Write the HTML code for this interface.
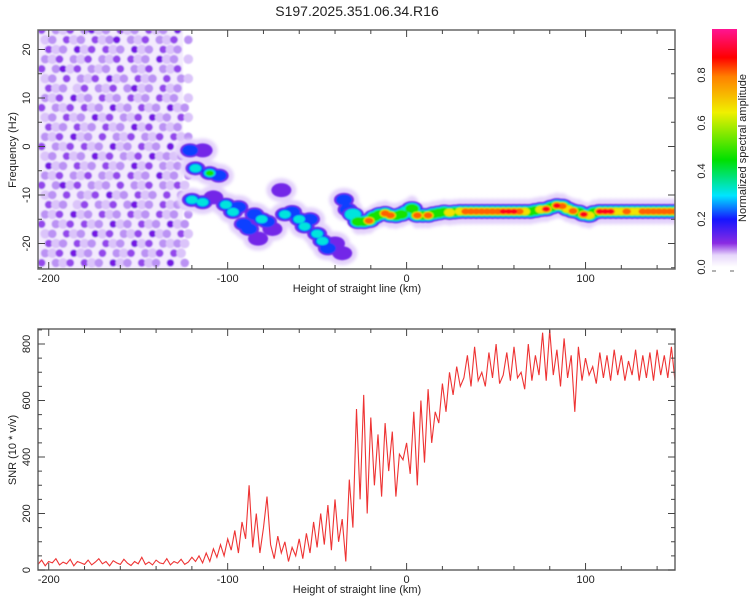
<!DOCTYPE html>
<html><head><meta charset="utf-8">
<style>
html,body{margin:0;padding:0;background:#fff;}
svg{display:block;font-family:"Liberation Sans",sans-serif;}
</style></head>
<body>
<svg id="chart" width="750" height="600" viewBox="0 0 750 600">
<defs>
<clipPath id="clipTop"><rect x="38" y="30" width="637" height="239"/></clipPath>
<clipPath id="clipBot"><rect x="38" y="329" width="637" height="241"/></clipPath>
<filter id="blur2" x="-10%" y="-10%" width="120%" height="120%"><feGaussianBlur stdDeviation="1.6"/></filter>
<filter id="blurS" x="-10%" y="-10%" width="120%" height="120%"><feGaussianBlur stdDeviation="0.8"/></filter>
<filter id="blur1" x="-20%" y="-20%" width="140%" height="140%"><feGaussianBlur stdDeviation="0.7"/></filter>
<linearGradient id="cbGrad" x1="0" y1="1" x2="0" y2="0">
<stop offset="0" stop-color="#ffffff"/><stop offset="0.05" stop-color="#e6d6fb"/>
<stop offset="0.1" stop-color="#8a2be2"/><stop offset="0.2" stop-color="#1515ff"/>
<stop offset="0.3" stop-color="#00e5ff"/><stop offset="0.45" stop-color="#00e000"/>
<stop offset="0.65" stop-color="#f0f000"/><stop offset="0.8" stop-color="#ff8000"/>
<stop offset="0.88" stop-color="#ff0000"/><stop offset="1" stop-color="#ff1493"/>
</linearGradient>
</defs>
<text x="357" y="16" font-size="14" text-anchor="middle" fill="#222">S197.2025.351.06.34.R16</text>
<g id="topPlot"></g>
<g id="botPlot"></g>
<g id="cbar"></g>
</svg>
<script>
// ---- data ----
const speckleRows = [
"302130241203120312040","120312031240213021302","031204130312041203120","213021302130312041201",
"302413021203021302130","120302130412031203021","031201302130241203120","213041203120312031201",
"302130312041203120412","120312041302130412031","031203120312041302120","213041203021302130312",
"302130312041203120402","120312041302130412131","041203120312041302120","213021302130312041203",
"302413021203021302131","120302130412031203020","031201302130241203121","213041203120312031202",
"302130312041203120412","120312041302130412031","031203120312041302121","213041203021302130310",
"302130312041203120402"];
const ridgeX = [-121,-114,-118,-110,-105,-120,-114,-108,-101,-97,-94,-91,-88,-85,-81,-78,-75,-68,-64,-60,-57,-54,-50,-47,-44,-40,-36,-35,-33,-70,-83];
const ridgeF = [-0.8,-0.8,-4.5,-5.5,-6,-11,-11.5,-10.5,-12,-13.5,-12.5,-16,-17,-14,-15,-15.5,-17,-14,-13.5,-15,-16.5,-15,-18,-19.5,-21,-20,-22,-11,-13,-9,-19];
const ridgeAmp = [0.2,0.12,0.3,0.45,0.25,0.3,0.32,0.12,0.3,0.32,0.25,0.22,0.25,0.2,0.3,0.25,0.15,0.35,0.25,0.3,0.3,0.25,0.42,0.3,0.2,0.15,0.12,0.25,0.2,0.12,0.15];
const bandX = [-30,-27,-24,-21,-18,-15,-12,-9,-6,-3,0,3,6,9,12,15,18,21,24,27,30,33,36,39,42,45,48,51,54,57,60,63,66,69,72,75,78,81,84,87,90,93,96,99,102,105,108,111,114,117,120,123,126,129,132,135,138,141,144,147,150];
const bandF = [-14,-15.5,-15.5,-15.3,-14.5,-14,-13.8,-14.2,-14.3,-14,-13.5,-12.8,-14.2,-14.2,-14.2,-13.9,-13.7,-13.5,-13.6,-13.5,-13.4,-13.4,-13.4,-13.4,-13.4,-13.4,-13.4,-13.4,-13.4,-13.4,-13.4,-13.4,-13.4,-13.4,-13.2,-13,-12.9,-12.5,-12.2,-12.3,-12.9,-13.3,-13.5,-14,-14.2,-13.6,-13.4,-13.4,-13.4,-13.4,-13.4,-13.4,-13.4,-13.4,-13.4,-13.4,-13.4,-13.4,-13.4,-13.4,-13.4];
const bandAmp = [0.35,0.5,0.55,0.85,0.6,0.6,0.85,0.8,0.55,0.45,0.4,0.6,0.85,0.6,0.85,0.6,0.55,0.6,0.7,0.6,0.7,0.85,0.82,0.85,0.8,0.85,0.85,0.85,0.88,0.88,0.88,0.85,0.7,0.6,0.55,0.65,0.9,0.6,0.9,0.85,0.65,0.85,0.6,0.88,0.65,0.5,0.88,0.9,0.88,0.7,0.65,0.8,0.7,0.75,0.85,0.8,0.85,0.85,0.8,0.85,0.85];
const snrStart = -206;
const snrStep = 2;
const snrValues = [
20,35,15,30,25,40,18,28,22,38,15,30,25,20,35,18,28,40,22,30,15,33,25,20,38,24,16,30,22,45,20,28,18,35,25,22,40,18,30,24,38,20,28,45,30,50,
25,60,30,75,45,90,50,110,
70,140,60,170,110,300,
80,200,60,150,260,90,
40,120,60,100,30,80,50,110,40,130,
60,170,80,200,90,230,70,250,100,180,
30,320,150,570,250,620,200,540,
300,480,260,520,350,490,260,410,390,450,
340,560,300,600,380,640,450,560,
520,660,560,700,620,720,650,
680,760,650,790,670,700,650,770,680,800,660,690,770,670,790,680,700,640,800,670,760,690,840,670,850,690,780,650,820,680,760,560,790,670,750,690,720,660,770,680,760,670,780,690,760,670,740,690,780,670,760,680,770,670,780,690,760,680,790,670];
const xTicks = [-200,-100,0,100];
const freqTicks = [20,10,0,-10,-20];
const snrTicks = [0,200,400,600,800];
const cbTicks = [0.0,0.2,0.4,0.6,0.8];

// ---- scales ----
const NS="http://www.w3.org/2000/svg";
const X0=38,X1=675,XMIN=-206,XMAX=150;
const xs = v => X0+(v-XMIN)/(XMAX-XMIN)*(X1-X0);
const fy = f => 146.5-(f*4.85);
const sy = s => 570-s*0.2825;
const cby = a => 267-a*240;
function mk(tag,attrs,parent){const e=document.createElementNS(NS,tag);for(const k in attrs)e.setAttribute(k,attrs[k]);parent.appendChild(e);return e;}
const stops=[[0,[255,255,255]],[0.05,[230,214,251]],[0.1,[138,43,226]],[0.2,[21,21,255]],[0.3,[0,229,255]],[0.45,[0,224,0]],[0.65,[240,240,0]],[0.8,[255,128,0]],[0.88,[255,0,0]],[1,[255,20,147]]];
function cmap(a){for(let i=1;i<stops.length;i++){if(a<=stops[i][0]){const[a0,c0]=stops[i-1],[a1,c1]=stops[i];const t=(a-a0)/(a1-a0);return 'rgb('+c0.map((c,j)=>Math.round(c+(c1[j]-c)*t)).join(',')+')';}}return 'rgb(255,20,147)';}

const topG=document.getElementById('topPlot'), botG=document.getElementById('botPlot'), cbG=document.getElementById('cbar');

// ---- spectrogram ----
const hm=mk('g',{'clip-path':'url(#clipTop)'},topG);


const spk=mk('g',{filter:'url(#blurS)'},hm);


mk('rect',{x:xs(-206)-5,y:25,width:xs(-125)-xs(-206)+5,height:250,fill:'#f3ebfd'},spk);
const lvCol=['','#dbc4fa','#bb92f4','#9447ec','#7417e4'];
const lvR=[0,4.8,4.3,3.9,3.7];
speckleRows.forEach((row,ri)=>{
  const f=24-ri*2;
  for(let ci=0;ci<row.length;ci++){
    const lv=+row[ci]; if(!lv) continue;
    const v=-204+ci*4+(ri%2)*2;
    const c=mk('circle',{cx:xs(v),cy:fy(f),r:lvR[lv],fill:lvCol[lv]},spk);
    
    
  }
});
const levels=[0.1,0.2,0.3,0.45,0.65,0.8,0.88];
const ridgeScale=[1.0,0.8,0.58,0.42,0.3,0.22,0.16];
const bandScale=[1.0,0.88,0.74,0.62,0.5,0.4,0.32];
function blobLayer(v,f,rx,ry,L,k,parent){
  mk('ellipse',{cx:xs(v),cy:fy(f),rx:(rx*k).toFixed(2),ry:(ry*k).toFixed(2),fill:cmap(L+0.02)},parent);
}
function drawHalo(xsArr,fArr,rx,ry,parent){
  xsArr.forEach((v,i)=>mk('ellipse',{cx:xs(v),cy:fy(fArr[i]),rx:rx,ry:ry,fill:'#e4d3fb'},parent));
}
const halo=mk('g',{filter:'url(#blur2)'},hm);


drawHalo(ridgeX,ridgeF,15,12,halo);
drawHalo(bandX,bandF,8,13,halo);

const rg=mk('g',{filter:'url(#blur1)'},hm);


const bg=mk('g',{filter:'url(#blur1)'},hm);


levels.forEach((L,li)=>{
  ridgeX.forEach((v,i)=>{if(ridgeAmp[i]>=L){blobLayer(v,ridgeF[i],10,7,L,ridgeScale[li],rg);}});
  bandX.forEach((v,i)=>{if(bandAmp[i]>=L){blobLayer(v,bandF[i],11,7.5,L,bandScale[li],bg);}});
});

// frame & ticks
function drawFrame(parent,y0,y1){
  mk('rect',{x:X0,y:y0,width:X1-X0,height:y1-y0,fill:'none',stroke:'#666','stroke-width':1.5},parent);
  for(let v=-200;v<=150;v+=20){const X=xs(v),maj=v%100===0,l=maj?7:4;
    mk('line',{x1:X,y1:y1,x2:X,y2:y1-l,stroke:'#444'},parent);
    mk('line',{x1:X,y1:y0,x2:X,y2:y0+l,stroke:'#444'},parent);}
  xTicks.forEach(v=>{const t=mk('text',{x:xs(v),y:y1+13,'font-size':11,'text-anchor':'middle',fill:'#222'},parent);t.textContent=v;
    });
  const lab=mk('text',{x:357,y:y1+23,'font-size':11,'text-anchor':'middle',fill:'#222'},parent);
  lab.textContent='Height of straight line (km)';
  
}
drawFrame(topG,30,269);
for(let f=-25;f<=20;f+=5){const Y=fy(f),l=f%10===0?7:4;
  mk('line',{x1:X0,y1:Y,x2:X0+l,y2:Y,stroke:'#444'},topG);mk('line',{x1:X1,y1:Y,x2:X1-l,y2:Y,stroke:'#444'},topG);}
freqTicks.forEach(f=>{const t=mk('text',{x:0,y:0,'font-size':11,'text-anchor':'middle',fill:'#222',transform:`translate(30,${fy(f)}) rotate(-90)`},topG);t.textContent=f;
  });
const fl=mk('text',{x:0,y:0,'font-size':11,'text-anchor':'middle',fill:'#222',transform:'translate(16,150) rotate(-90)'},topG);
fl.textContent='Frequency (Hz)';

// ---- SNR ----
const pts=snrValues.map((s,i)=>xs(snrStart+i*snrStep).toFixed(1)+','+sy(s).toFixed(1)).join(' ');
const ln=mk('polyline',{points:pts,fill:'none',stroke:'#ee3333','stroke-width':1.1,'clip-path':'url(#clipBot)'},botG);


drawFrame(botG,329,570);
for(let s=0;s<=850;s+=50){const Y=sy(s),l=s%200===0?7:4;
  mk('line',{x1:X0,y1:Y,x2:X0+l,y2:Y,stroke:'#444'},botG);mk('line',{x1:X1,y1:Y,x2:X1-l,y2:Y,stroke:'#444'},botG);}
snrTicks.forEach(s=>{const t=mk('text',{x:0,y:0,'font-size':11,'text-anchor':'middle',fill:'#222',transform:`translate(30,${sy(s)}) rotate(-90)`},botG);t.textContent=s;
  });
const sl=mk('text',{x:0,y:0,'font-size':11,'text-anchor':'middle',fill:'#222',transform:'translate(16,450) rotate(-90)'},botG);
sl.textContent='SNR (10 * v/v)';

// ---- colorbar ----
const cr=mk('rect',{x:712,y:29,width:25,height:238,fill:'url(#cbGrad)'},cbG);

cbTicks.forEach(a=>{const t=mk('text',{x:0,y:0,'font-size':11,'text-anchor':'middle',fill:'#222',transform:`translate(705,${cby(a)}) rotate(-90)`},cbG);t.textContent=a.toFixed(1);
  });
mk('line',{x1:712,y1:271,x2:716,y2:271,stroke:'#666'},cbG);mk('line',{x1:730,y1:271,x2:734,y2:271,stroke:'#666'},cbG);
const cl=mk('text',{x:0,y:0,'font-size':11,'text-anchor':'middle',fill:'#222',transform:'translate(746,148) rotate(-90)'},cbG);
cl.textContent='Normalized spectral amplitude';
</script>
</body></html>
